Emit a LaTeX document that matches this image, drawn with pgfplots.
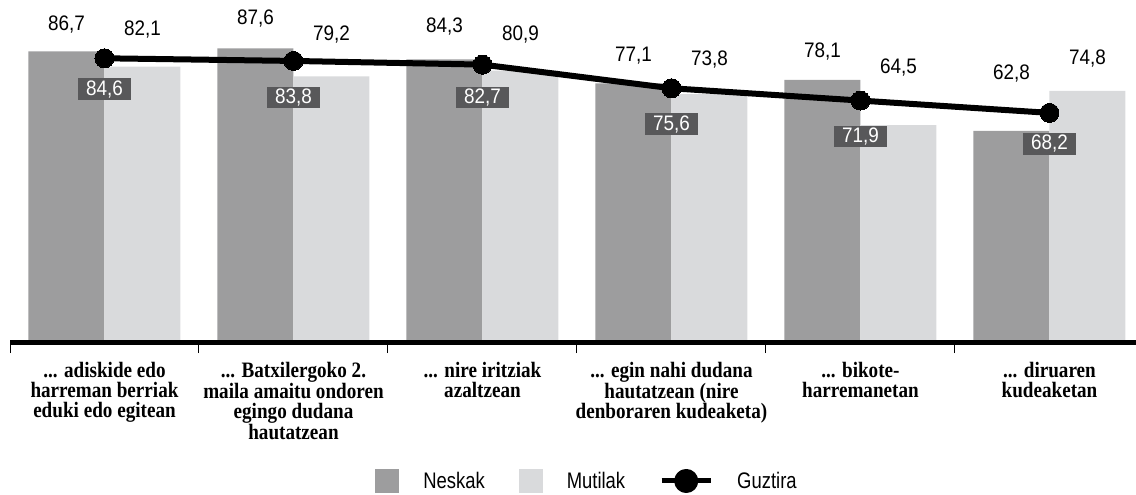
\documentclass[border=0pt]{standalone}
\usepackage{fontspec}
\setmainfont{Liberation Sans}
\newfontfamily\numfont[FakeStretch=0.9]{Liberation Sans}
\newfontfamily\legfont[FakeStretch=0.82]{Liberation Sans}
\newfontfamily\catfont[FakeStretch=0.87]{Liberation Serif}
\usepackage{pgfplots}
\pgfplotsset{compat=1.18}
\usepackage{pgfplotstable}
\definecolor{neskak}{RGB}{157,157,158}
\definecolor{mutilak}{RGB}{217,218,220}
\definecolor{boxgray}{RGB}{88,88,90}
\newcommand\ddd{...}

\pgfplotstableread{
x y off lab
0 86.7 18 86,7
1 87.6 21 87,6
2 84.3 24 84,3
3 77.1 19 77,1
4 78.1 20 78,1
5 62.8 48 62,8
}\tabN
\pgfplotstableread{
x y off lab
0 82.1 28 82,1
1 79.2 33 79,2
2 80.9 27 80,9
3 73.8 26 73,8
4 64.5 49 64,5
5 74.8 24 74,8
}\tabM
\pgfplotstableread{
x y off lab
0 84.6 -31 84,6
1 83.8 -36.5 83,8
2 82.7 -33 82,7
3 75.6 -36 75,6
4 71.9 -36 71,9
5 68.2 -31 68,2
}\tabG

\begin{document}
\begin{tikzpicture}
\begin{axis}[
  at={(10pt,155pt)}, anchor=south west,
  scale only axis, width=1134pt, height=333pt,
  xmin=-0.5, xmax=5.5, ymin=0, ymax=100,
  axis x line=bottom, axis y line=none,
  x axis line style={line width=5pt, yshift=-2.5pt, -},
  xtick={0,1,2,3,4,5},
  xticklabels={
    {\ddd{} adiskide edo\\harreman berriak\\eduki edo egitean},
    {\ddd{} Batxilergoko 2.\\maila amaitu ondoren\\egingo dudana\\hautatzean},
    {\ddd{} nire iritziak\\azaltzean},
    {\ddd{} egin nahi dudana\\hautatzean (nire\\denboraren kudeaketa)},
    {\ddd{} bikote-\\harremanetan},
    {\ddd{} diruaren\\kudeaketan}},
  major tick length=0pt,
  minor xtick={-0.5,0.5,1.5,2.5,3.5,4.5,5.5},
  minor tick length=13pt,
  tick align=outside,
  minor tick style={line width=1pt, black},
  xticklabel style={font=\catfont\bfseries\fontsize{22}{20}\selectfont, align=center, anchor=north, inner sep=0pt, yshift=-22pt},
  legend columns=3,
  legend cell align=left,
  legend style={at={(0.5088,-0.4234)}, anchor=center, draw=none, fill=none,
    font=\legfont\fontsize{22.5}{22.5}\selectfont,
    /tikz/every odd column/.append style={column sep=22pt},
    /tikz/every even column/.append style={column sep=32pt}},
]
\addplot[ybar, bar width=76pt, bar shift=-38pt, fill=neskak, draw=none,
  point meta=explicit symbolic, nodes near coords,
  visualization depends on={\thisrow{off} \as \myoff},
  every node near coord/.append style={xshift=-38pt, yshift=\myoff pt, font=\numfont\fontsize{21}{21}\selectfont, inner sep=0pt, text=black},
  legend image code/.code={\fill[neskak] (0pt,-12pt) rectangle (24pt,12pt);}
] table[x=x, y=y, meta=lab] {\tabN};
\addlegendentry{Neskak}
\addplot[ybar, bar width=76pt, bar shift=38pt, fill=mutilak, draw=none,
  point meta=explicit symbolic, nodes near coords,
  visualization depends on={\thisrow{off} \as \myoff},
  every node near coord/.append style={xshift=38pt, yshift=\myoff pt, font=\numfont\fontsize{21}{21}\selectfont, inner sep=0pt, text=black},
  legend image code/.code={\fill[mutilak] (0pt,-12pt) rectangle (24pt,12pt);}
] table[x=x, y=y, meta=lab] {\tabM};
\addlegendentry{Mutilak}
\addplot[black, line width=6pt, line join=round, mark=*, mark size=9.5pt,
  mark options={line width=0pt, fill=black, draw=black},
  point meta=explicit symbolic, nodes near coords,
  visualization depends on={\thisrow{off} \as \myoff},
  every node near coord/.append style={anchor=center, yshift=\myoff pt, fill=boxgray, text=white, font=\numfont\fontsize{21}{21}\selectfont, minimum width=52.7pt, minimum height=21.7pt, inner sep=0pt},
  legend image code/.code={\draw[black, line width=5pt] (0pt,0pt) -- (49pt,0pt); \fill[black] (24.5pt,0pt) circle (9pt);}
] table[x=x, y=y, meta=lab] {\tabG};
\addlegendentry{Guztira}
\end{axis}
\pgfresetboundingbox
\path[use as bounding box] (0,0) rectangle (1136pt,495pt);
\end{tikzpicture}
\end{document}
